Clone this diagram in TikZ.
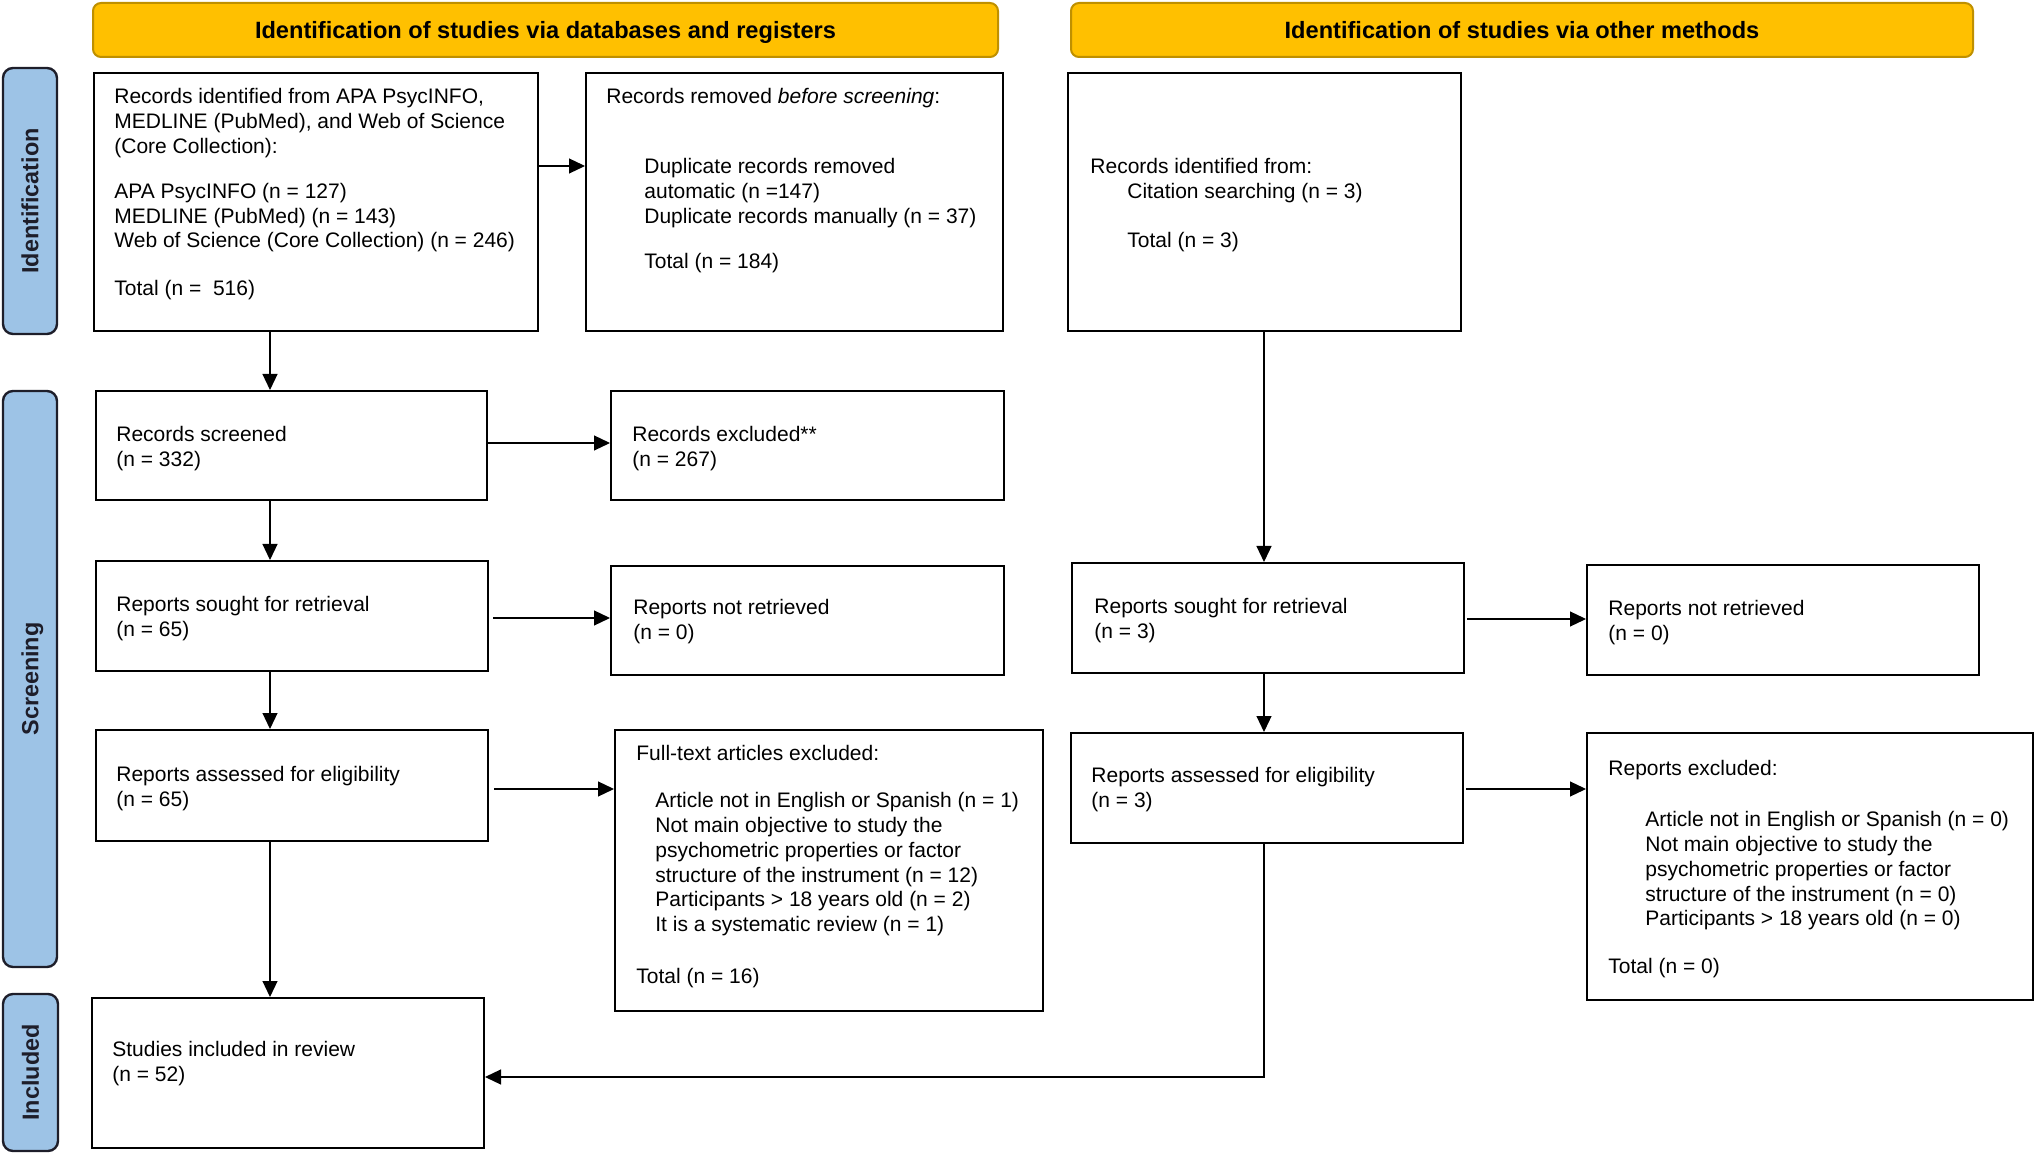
\documentclass[tikz,border=0pt]{standalone}
\usepackage{fontspec}
\setmainfont{Liberation Sans}
\usetikzlibrary{fit,arrows.meta}
\definecolor{gold}{HTML}{FFC000}
\definecolor{goldedge}{HTML}{BF9000}
\definecolor{sideblue}{HTML}{9DC3E6}
\definecolor{sideedge}{HTML}{1E1E2A}
\begin{document}
\begin{tikzpicture}[x=0.5pt,y=-0.5pt,
  box/.style={draw=black,line width=1pt,inner sep=0pt,fill=white},
  hdr/.style={draw=goldedge,line width=1pt,fill=gold,rounded corners=4pt,inner sep=0pt},
  side/.style={draw=sideedge,line width=1.2pt,fill=sideblue,rounded corners=5pt,inner sep=0pt},
  txt/.style={anchor=north west,inner sep=0pt,align=left,font=\fontsize{10.5}{12.4}\selectfont},
  hdrtxt/.style={font=\fontsize{11.8}{14}\selectfont\bfseries,inner sep=0pt,text height=8.6pt,text depth=0pt},
  sidetxt/.style={font=\fontsize{11.7}{14}\selectfont\bfseries,text=sideedge,rotate=90,inner sep=0pt,text height=8.5pt,text depth=0pt},
  arr/.style={line width=0.6pt,-{Triangle[length=8pt,width=7.5pt]}}]
\useasboundingbox (0,0) rectangle (2035,1154);

% headers
\node[hdr,fit={(93,3) (998,57)}] (H1) {};
\node[hdrtxt] (H1t) at (H1.center) {Identification of studies via databases and registers};
\node[hdr,fit={(1071,3) (1973,57)}] (H2) {};
\node[hdrtxt] (H2t) at (H2.center) {Identification of studies via other methods};

% side labels
\node[side,fit={(3,68) (57,334)}] (S1) {};
\node[sidetxt] (S1t) at (S1.center) {Identification};
\node[side,fit={(3,391) (57,967)}] (S2) {};
\node[sidetxt] (S2t) at (S2.center) {Screening};
\node[side,fit={(3,994) (58,1151)}] (S3) {};
\node[sidetxt] (S3t) at (S3.center) {Included};

% boxes
\node[box,fit={(94,73) (538,331)}] (A) {};
\node[box,fit={(586,73) (1003,331)}] (B) {};
\node[box,fit={(1068,73) (1461,331)}] (C) {};
\node[box,fit={(96,391) (487,500)}] (D) {};
\node[box,fit={(611,391) (1004,500)}] (E) {};
\node[box,fit={(96,561) (488,671)}] (F) {};
\node[box,fit={(611,566) (1004,675)}] (G) {};
\node[box,fit={(96,730) (488,841)}] (H) {};
\node[box,fit={(615,730) (1043,1011)}] (I) {};
\node[box,fit={(92,998) (484,1148)}] (J) {};
\node[box,fit={(1072,563) (1464,673)}] (K) {};
\node[box,fit={(1587,565) (1979,675)}] (L) {};
\node[box,fit={(1071,733) (1463,843)}] (M) {};
\node[box,fit={(1587,733) (2033,1000)}] (N) {};

% texts
\node[txt] (At) at (114,88) {Records identified from APA PsycINFO,\\MEDLINE (PubMed), and Web of Science\\(Core Collection):\\[10.1pt]APA PsycINFO (n = 127)\\MEDLINE (PubMed) (n = 143)\\Web of Science (Core Collection) (n = 246)\\[11.6pt]Total (n =\ \ 516)};
\node[txt] (Bt1) at (606,88) {Records removed \textit{before screening}:};
\node[txt] (Bt2) at (644,158) {Duplicate records removed\\automatic (n =147)\\Duplicate records manually (n = 37)\\[10.1pt]Total (n = 184)};
\node[txt] (Ct1) at (1090,158) {Records identified from:};
\node[txt] (Ct2) at (1127,183) {Citation searching (n = 3)\\[11.8pt]Total (n = 3)};
\node[txt] (Dt) at (116,426) {Records screened\\(n = 332)};
\node[txt] (Et) at (632,426) {Records excluded**\\(n = 267)};
\node[txt] (Ft) at (116,596) {Reports sought for retrieval\\(n = 65)};
\node[txt] (Gt) at (633,599) {Reports not retrieved\\(n = 0)};
\node[txt] (Ht) at (116,766) {Reports assessed for eligibility\\(n = 65)};
\node[txt] (It1) at (636,745) {Full-text articles excluded:};
\node[txt] (It2) at (655,792) {Article not in English or Spanish (n = 1)\\Not main objective to study the\\psychometric properties or factor\\structure of the instrument (n = 12)\\Participants > 18 years old (n = 2)\\It is a systematic review (n = 1)};
\node[txt] (It3) at (636,968) {Total (n = 16)};
\node[txt] (Jt) at (112,1041) {Studies included in review\\(n = 52)};
\node[txt] (Kt) at (1094,598) {Reports sought for retrieval\\(n = 3)};
\node[txt] (Lt) at (1608,600) {Reports not retrieved\\(n = 0)};
\node[txt] (Mt) at (1091,767) {Reports assessed for eligibility\\(n = 3)};
\node[txt] (Nt1) at (1608,760) {Reports excluded:};
\node[txt] (Nt2) at (1645,811) {Article not in English or Spanish (n = 0)\\Not main objective to study the\\psychometric properties or factor\\structure of the instrument (n = 0)\\Participants > 18 years old (n = 0)};
\node[txt] (Nt3) at (1608,958) {Total (n = 0)};

% reference coordinates for connector lanes
\coordinate (xL) at (270,0);
\coordinate (xR) at (1264,0);
\coordinate (yAB) at (0,166);
\coordinate (yDE) at (0,443);
\coordinate (yFG) at (0,618);
\coordinate (yHI) at (0,789);
\coordinate (yKL) at (0,619);
\coordinate (yMN) at (0,789);
\coordinate (yMJ) at (0,1077);

% connectors
\draw[arr] (A.east |- yAB) -- (B.west |- yAB);
\draw[arr] (A.south -| xL) -- (D.north -| xL);
\draw[arr] (D.east |- yDE) -- (E.west |- yDE);
\draw[arr] (D.south -| xL) -- (F.north -| xL);
\draw[arr] ([xshift=2pt]F.east |- yFG) -- (G.west |- yFG);
\draw[arr] (F.south -| xL) -- (H.north -| xL);
\draw[arr] ([xshift=2.5pt]H.east |- yHI) -- (I.west |- yHI);
\draw[arr] (H.south -| xL) -- (J.north -| xL);
\draw[arr] (C.south -| xR) -- (K.north -| xR);
\draw[arr] ([xshift=1pt]K.east |- yKL) -- (L.west |- yKL);
\draw[arr] (K.south -| xR) -- (M.north -| xR);
\draw[arr] ([xshift=1pt]M.east |- yMN) -- (N.west |- yMN);
\draw[arr] (M.south -| xR) |- (J.east |- yMJ);
\end{tikzpicture}
\end{document}
